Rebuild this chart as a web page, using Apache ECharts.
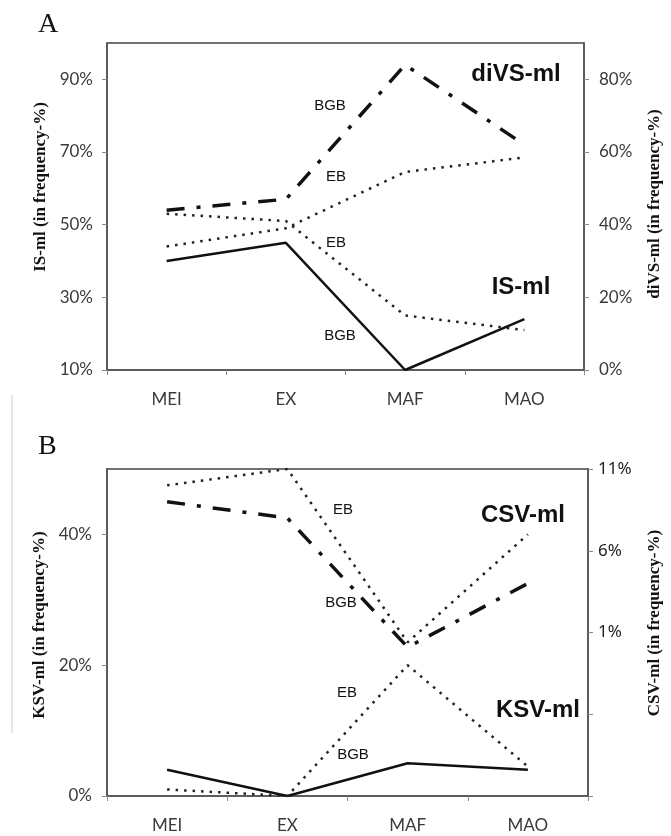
<!DOCTYPE html>
<html>
<head>
<meta charset="utf-8">
<script src="https://cdn.jsdelivr.net/npm/echarts@6/dist/echarts.min.js"></script>
<style>
html,body{margin:0;padding:0;background:#fff;}
#chart{width:671px;height:836px;}
</style>
</head>
<body>
<div id="chart"></div>
<script>
// ---- Data ----
const categories = ['MEI', 'EX', 'MAF', 'MAO'];

// Panel A
const isBGB   = [40, 45, 10, 24];     // IS-ml BGB (left axis)
const isEB    = [53, 51, 25, 21];     // IS-ml EB (left axis)
const divsBGB = [44, 47, 84, 62];     // diVS-ml BGB (right axis)
const divsEB  = [34, 39, 54.5, 58.5]; // diVS-ml EB (right axis)
const ticksALeft  = [10, 30, 50, 70, 90];
const ticksARight = [0, 20, 40, 60, 80];

// Panel B
const ksvBGB = [4, 0, 5, 4];          // KSV-ml BGB (left axis)
const ksvEB  = [1, 0, 20, 4.5];       // KSV-ml EB (left axis)
const csvBGB = [9, 8, 0.1, 4];        // CSV-ml BGB (right axis)
const csvEB  = [10, 11, 0.4, 7];      // CSV-ml EB (right axis)
const ticksBLeft  = [0, 20, 40];
const ticksBRight = [-9, -4, 1, 6, 11];
const labelsBRight = [1, 6, 11];

// ---- Styles ----
const axisColor = '#555';
const tickColor = '#888';
const labelFont = { fontFamily: 'Lato', fontSize: 17, color: '#3a3a3a' };
const nameFont = { fontFamily: 'Liberation Serif', fontWeight: 'bold', fontSize: 17, color: '#111' };

const solid   = { color: '#111', width: 2.5, type: 'solid' };
const dotted  = { color: '#222', width: 2.5, type: [2.5, 6], cap: 'butt' };
const dashdot = { color: '#111', width: 3.5, type: [18, 12, 4, 12], cap: 'butt' };

function xAxis(gridIndex) {
  return {
    type: 'category', gridIndex, data: categories, boundaryGap: true,
    axisLine: { lineStyle: { color: axisColor, width: 1.5 } },
    axisTick: { show: true, length: 5, lineStyle: { color: tickColor } },
    axisLabel: Object.assign({ margin: 21 }, labelFont),
    splitLine: { show: false }
  };
}
function yAxis(gridIndex, pos, min, max, ticks, labels, name, gap, padL, fmtFont, margin) {
  return {
    type: 'value', gridIndex, position: pos, min, max,
    name, nameLocation: 'middle', nameRotate: 90, nameGap: gap,
    nameTextStyle: Object.assign({ padding: [0, 0, 0, padL] }, nameFont),
    axisLine: { show: true, onZero: false, lineStyle: { color: axisColor, width: 1.5 } },
    axisTick: { show: true, length: 5, customValues: ticks, lineStyle: { color: tickColor } },
    axisLabel: Object.assign({ margin, customValues: labels, formatter: v => v + '%' }, fmtFont),
    splitLine: { show: false }
  };
}

function line(xi, yi, data, style, z) {
  return { type: 'line', xAxisIndex: xi, yAxisIndex: yi, data, symbol: 'none',
           lineStyle: style, z: z || 2, silent: true, animation: false };
}

function txt(x, y, text, font, size, weight, align) {
  return { type: 'text', x, y, silent: true,
    style: { text, fill: '#111', font: (weight || 'normal') + ' ' + size + 'px "' + font + '"',
             textAlign: align || 'center', textVerticalAlign: 'middle' } };
}

const chart = echarts.init(document.getElementById('chart'), null, { renderer: 'canvas' });
chart.setOption({
  animation: false,
  backgroundColor: '#fff',
  grid: [
    { left: 107, top: 43, width: 480, height: 327, show: true, borderColor: '#444', borderWidth: 1.5, backgroundColor: 'transparent' },
    { left: 107, top: 469, width: 489, height: 327, show: true, borderColor: '#444', borderWidth: 1.5, backgroundColor: 'transparent' }
  ],
  xAxis: [xAxis(0), xAxis(1)],
  yAxis: [
    yAxis(0, 'left', 10, 100, ticksALeft, ticksALeft, 'IS-ml (in frequency-%)', 56, 39, labelFont, 14),
    yAxis(0, 'right', 0, 90, ticksARight, ticksARight, 'diVS-ml (in frequency-%)', 62, 5, labelFont, 15),
    yAxis(1, 'left', 0, 50, ticksBLeft, ticksBLeft, 'KSV-ml (in frequency-%)', 57, 15, labelFont, 15),
    yAxis(1, 'right', -9, 11, ticksBRight, labelsBRight, 'CSV-ml (in frequency-%)', 58, 19,
          { fontFamily: 'Noto Sans', fontSize: 17, color: '#222' }, 10)
  ],
  series: [
    line(0, 0, isBGB, solid),
    line(0, 0, isEB, dotted),
    line(0, 1, divsBGB, dashdot),
    line(0, 1, divsEB, dotted),
    line(1, 2, ksvBGB, solid),
    line(1, 2, ksvEB, dotted),
    line(1, 3, csvBGB, dashdot),
    line(1, 3, csvEB, dotted)
  ],
  graphic: [
    { type: 'line', silent: true, shape: { x1: 12, y1: 395, x2: 12, y2: 733 }, style: { stroke: '#dedede', lineWidth: 1.5 } },
    txt(38, 25, 'A', 'Liberation Serif', 28, 'normal', 'left'),
    txt(38, 447, 'B', 'Liberation Serif', 28, 'normal', 'left'),
    txt(516, 74, 'diVS-ml', 'Liberation Sans', 24, 'bold'),
    txt(521, 287, 'IS-ml', 'Liberation Sans', 24, 'bold'),
    txt(523, 515, 'CSV-ml', 'Liberation Sans', 24, 'bold'),
    txt(538, 710, 'KSV-ml', 'Liberation Sans', 24, 'bold'),
    txt(330, 106, 'BGB', 'Liberation Sans', 15),
    txt(336, 177, 'EB', 'Liberation Sans', 15),
    txt(336, 243, 'EB', 'Liberation Sans', 15),
    txt(340, 336, 'BGB', 'Liberation Sans', 15),
    txt(343, 510, 'EB', 'Liberation Sans', 15),
    txt(341, 603, 'BGB', 'Liberation Sans', 15),
    txt(347, 693, 'EB', 'Liberation Sans', 15),
    txt(353, 755, 'BGB', 'Liberation Sans', 15)
  ]
});
</script>
</body>
</html>
